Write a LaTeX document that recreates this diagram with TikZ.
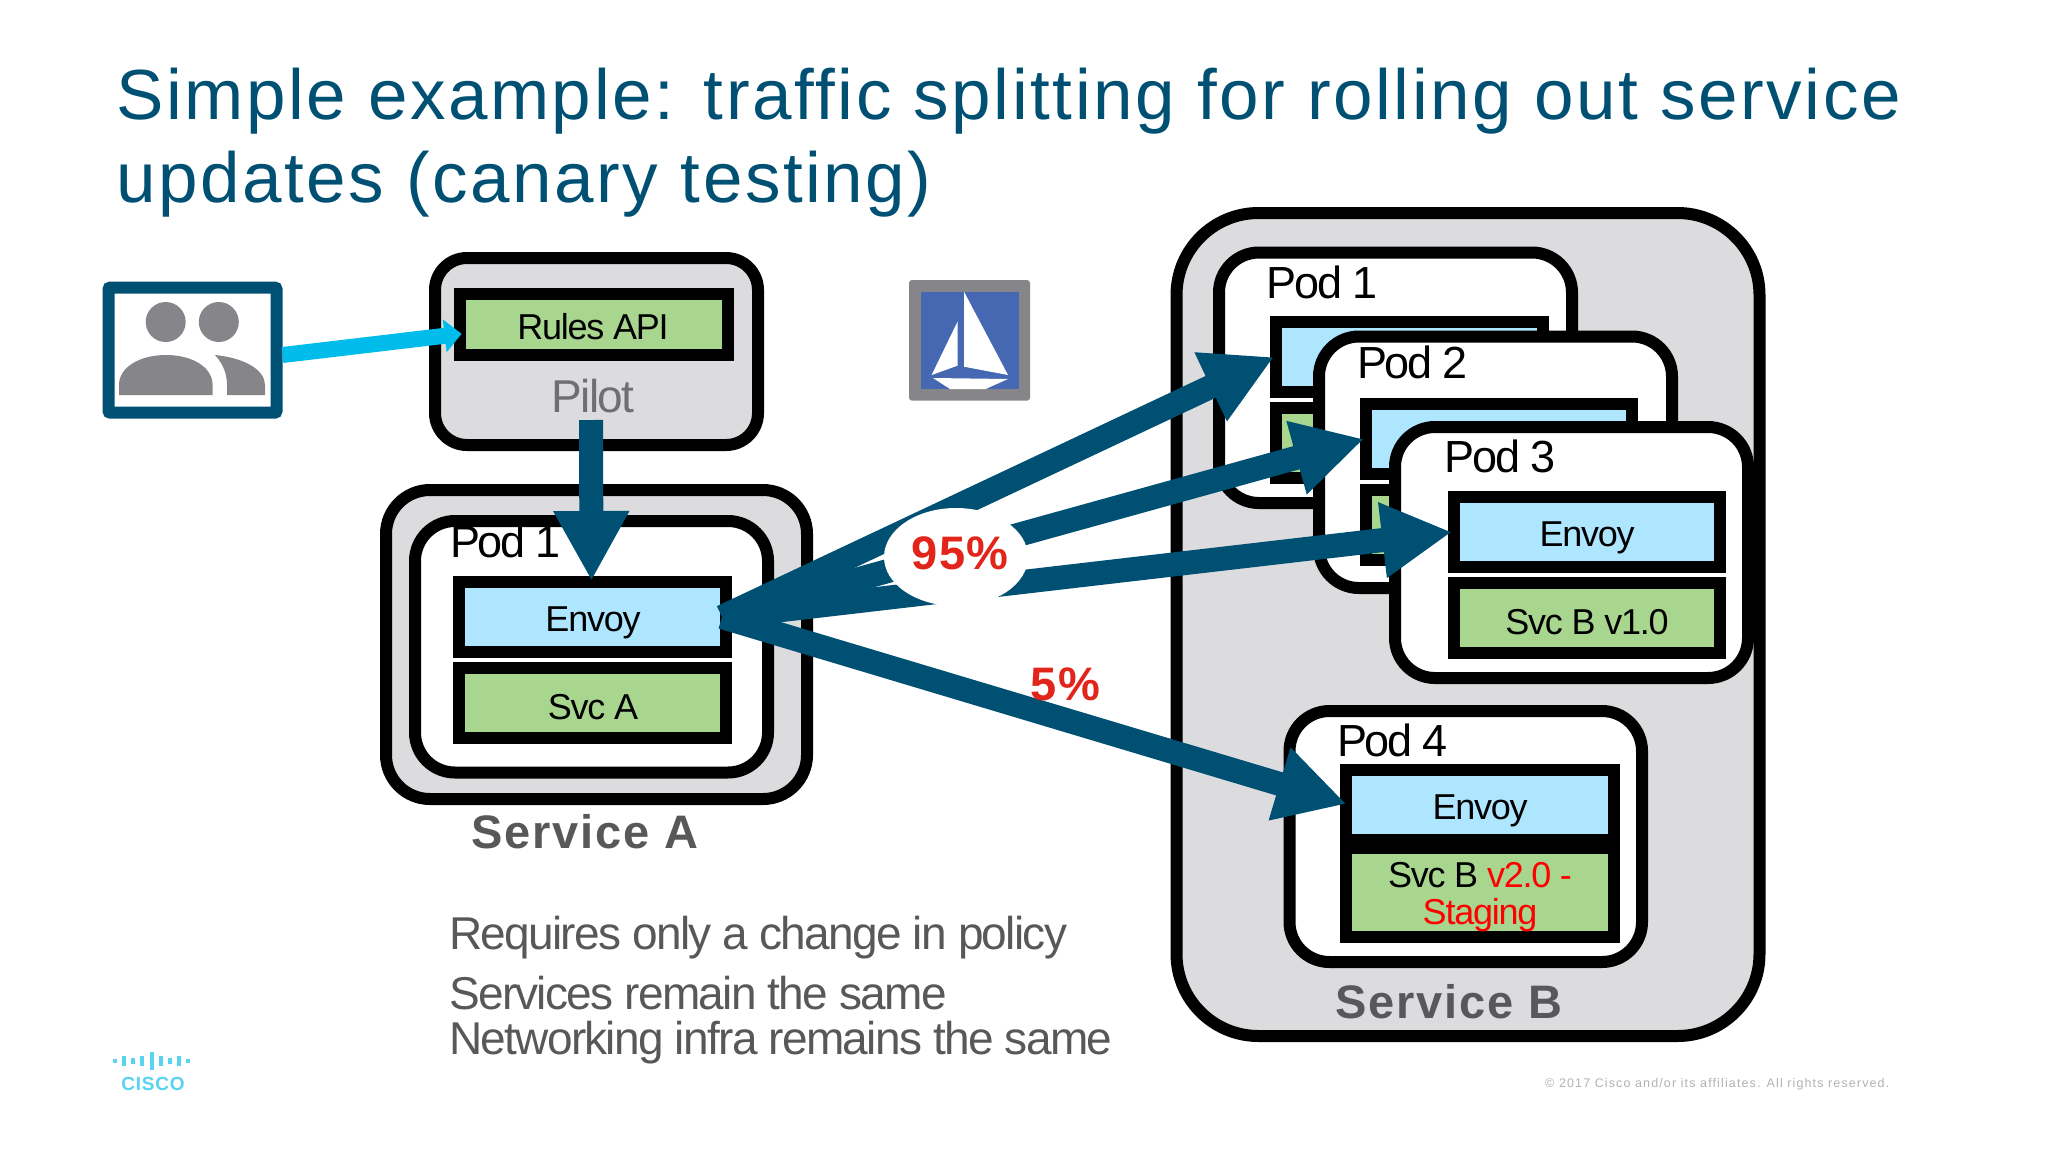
\documentclass[tikz,border=0pt]{standalone}
\usepackage{fontspec}
\setmainfont{Liberation Sans}
\newfontfamily\titlefont[LetterSpace=3.6]{Liberation Sans}
\newfontfamily\lblfont[LetterSpace=4]{Liberation Sans Bold}
\newfontfamily\pctfont[LetterSpace=3]{Liberation Sans Bold}
\newfontfamily\tight[LetterSpace=-3.5]{Liberation Sans}
\newfontfamily\podfont[LetterSpace=-5.3]{Liberation Sans}
\newfontfamily\notefont[LetterSpace=-3.7]{Liberation Sans}
\newfontfamily\copyfont[LetterSpace=9]{Liberation Sans}
\usetikzlibrary{arrows.meta,shapes.geometric}
\definecolor{teal}{HTML}{005073}
\definecolor{cy}{HTML}{00BCEB}
\definecolor{svcgrey}{HTML}{DCDCDF}
\definecolor{grn}{HTML}{A9D68F}
\definecolor{blu}{HTML}{AFE6FF}
\definecolor{txtgrey}{HTML}{58585B}
\definecolor{midgrey}{HTML}{86868A}
\definecolor{pilotgrey}{HTML}{6E6E73}
\definecolor{redb}{HTML}{E1251B}
\definecolor{sailblue}{HTML}{4668B2}
\newcommand{\fs}[1]{\fontsize{#1pt}{#1pt}\selectfont}
\tikzset{
  x=1pt,y=-1pt,
  svc/.style={draw=black,line width=12pt,fill=svcgrey,rounded corners=#1},
  svc/.default=44pt,
  pod/.style={draw=black,line width=12pt,fill=white,rounded corners=40pt},
  env/.style={draw=black,line width=12pt,fill=blu},
  app/.style={draw=black,line width=12pt,fill=grn},
  lab/.style={font=\tight\fs{36},text=black,inner sep=0pt,anchor=base},
  podlab/.style={font=\podfont\fs{45},text=black,inner sep=0pt,anchor=base west},
  svclab/.style={font=\lblfont\fs{47},text=txtgrey,inner sep=0pt,anchor=base},
  note/.style={font=\notefont\fs{46},text=txtgrey,inner sep=0pt,anchor=base west},
  pct/.style={font=\pctfont\fs{47},text=redb,inner sep=0pt,anchor=base},
  title/.style={font=\titlefont\fs{71},text=teal,inner sep=0pt,anchor=base west},
  fat/.style={draw=teal,line width=24pt,-{Triangle[length=70pt,width=71pt]}},
}
\begin{document}
\begin{tikzpicture}
\useasboundingbox (0,0) rectangle (2048,1152);
\fill[white] (0,0) rectangle (2048,1152);
% title
\node[title] (t1) at (116,119) {Simple example: traffic splitting for rolling out service};
\node[title] (t2) at (116,202) {updates (canary testing)};
% users icon
\draw[draw=teal,fill=white,line width=12pt,rounded corners=2pt] (108.5,287.5) rectangle (276.5,412.7);
\fill[midgrey] (165.7,322) circle (20);
\fill[midgrey] (218.8,322) circle (20);
\fill[midgrey] (119,395) -- (119,385) .. controls (119,367) and (140,355) .. (166,355) .. controls (192,355) and (212.6,367) .. (212.6,385) -- (212.6,395) -- cycle;
\fill[midgrey] (215,355) .. controls (245,358) and (265,370) .. (265,385) -- (265,395) -- (227,395) -- (227,385) .. controls (227,375) and (224,365) .. (215,355) -- cycle;
% pilot
\draw[svc=32pt] (435,258) rectangle (758,445);
\draw[app] (460,294) rectangle (727.6,354.5);
\node[lab] (rules) at (593,339) {Rules API};
\node[font=\tight\fs{46},text=pilotgrey,inner sep=0pt,anchor=base] (pilot) at (593,412) {Pilot};
% service A
\draw[svc=44pt] (386,490) rectangle (807,799);
\draw[pod] (415,521) rectangle (768,772.5);
\node[podlab] (podA) at (450,557) {Pod 1};
\draw[env] (459,582) rectangle (725.7,652);
\coordinate (envA) at (722,617);
\node[lab] (envAt) at (593,631) {Envoy};
\draw[app] (459,668) rectangle (725.7,738);
\node[lab] (svca) at (593,719) {Svc A};
\node[svclab] (sa) at (585,848) {Service A};
% service B
\draw[svc=82pt] (1176.5,213) rectangle (1759.5,1036);
\draw[pod] (1219,252.5) rectangle (1572,503);
\node[podlab] (p1) at (1266.5,298) {Pod 1};
\draw[env] (1276,322) rectangle (1543,392);
\draw[app] (1276,408) rectangle (1543,478);
\draw[pod] (1319,336.5) rectangle (1672,588);
\node[podlab] (p2) at (1357,378) {Pod 2};
\draw[env] (1365.5,403.5) rectangle (1632,474);
\draw[app] (1365.5,490) rectangle (1632,560);
\draw[pod] (1395,427) rectangle (1748,678);
\node[podlab] (p3) at (1444.5,472) {Pod 3};
\draw[env] (1453.5,497) rectangle (1720,567);
\node[lab] at (1587,546) {Envoy};
\draw[app] (1453.5,582.5) rectangle (1720,653);
\node[lab] at (1587,634) {Svc B v1.0};
\draw[pod] (1289.5,711) rectangle (1642,962);
\node[podlab] (p4) at (1337,756) {Pod 4};
\draw[env] (1346,769.7) rectangle (1613.5,840);
\node[lab] at (1480,819) {Envoy};
\draw[app] (1346,848) rectangle (1613.5,937);
\node[lab] at (1480,887) {Svc B \textcolor{red}{v2.0 -}};
\node[lab,text=red] at (1480,924) {Staging};
\node[svclab] (sb) at (1449,1018) {Service B};
% arrows
\coordinate (usersE) at (282.5,355);
\coordinate (rulesW) at (461.6,333.8);
\draw[draw=cy,line width=16pt,-{Triangle[length=17pt,width=32pt]}] (usersE) -- (rulesW);
\coordinate (pilotS) at (591,420);
\coordinate (envAn) at (591.5,581);
\draw[fat] (pilotS) -- (envAn);
\coordinate (t1b) at (1274,357);
\coordinate (t2b) at (1364,439);
\coordinate (t3b) at (1452,532);
\coordinate (t4b) at (1346.6,804);
\draw[fat] (envA) -- (t1b);
\draw[fat] (envA) -- (t2b);
\draw[fat] (envA) -- (t3b);
\draw[fat] (envA) -- (t4b);
\node[ellipse,fill=white,minimum width=144pt,minimum height=98pt,inner sep=0pt] (e95) at (956,557) {};
\node[pct] (p95) at (960,569) {95\%};
\node[pct] (p5) at (1065.5,700) {5\%};
% sail logo
\draw[fill=midgrey,draw=none,rounded corners=3pt] (909,280) rectangle (1030,400.7);
\fill[sailblue] (921,291.7) rectangle (1018.5,389);
\fill[white] (964,291.7) -- (1008,375) -- (964,366.7) -- cycle;
\fill[white] (957.5,321.7) -- (931.6,375) -- (957.5,365.7) -- cycle;
\fill[white] (933,378) -- (1008,379) -- (985.6,389) -- (950,389) -- cycle;
% notes
\node[note] (n1) at (449,949) {Requires only a change in policy};
\node[note] (n2) at (449,1009) {Services remain the same};
\node[note] (n3) at (449,1054) {Networking infra remains the same};
% cisco
\foreach \xx/\hh in {115/4,124/10,133/6,142/10,152/18,161/10,170/6,179/10,188/4}
  \fill[cy!65!white] (\xx-2,1061-\hh/2) rectangle (\xx+2,1061+\hh/2);
\node[font=\lblfont\fs{19},text=cy!65!white,inner sep=0pt,anchor=base] (cs) at (153,1090) {CISCO};
\node[font=\copyfont\fs{12.5},text=black!30,inner sep=0pt,anchor=base east] (cp) at (1889.5,1087) {© 2017 Cisco and/or its affiliates. All rights reserved.};
\end{tikzpicture}
\end{document}
